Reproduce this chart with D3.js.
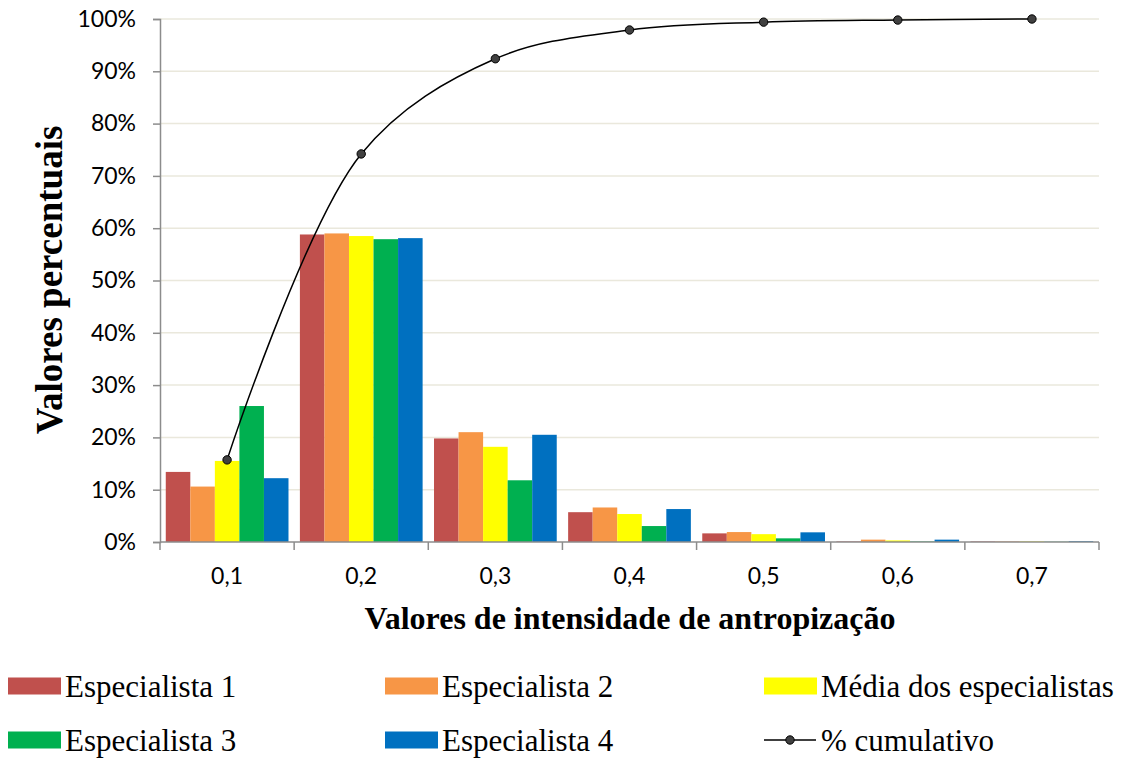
<!DOCTYPE html>
<html>
<head>
<meta charset="utf-8">
<script src="https://cdn.jsdelivr.net/npm/d3@7"></script>
<style>
  body { margin: 0; background: #fff; }
  svg { display: block; }
</style>
</head>
<body>
<svg id="chart" width="1129" height="758"></svg>
<script>
// Categories: intensity classes
const categories = ["0,1", "0,2", "0,3", "0,4", "0,5", "0,6", "0,7"];

// Percentage of area per class for each expert
const especialista1 = [13.4, 58.8, 19.8, 5.7, 1.65, 0.1, 0.1];
const especialista2 = [10.6, 59.0, 21.0, 6.6, 1.9, 0.45, 0.1];
const mediaEspecialistas = [15.5, 58.5, 18.2, 5.35, 1.5, 0.3, 0.1];
const especialista3 = [26.0, 57.9, 11.8, 3.05, 0.7, 0.1, 0.05];
const especialista4 = [12.2, 58.1, 20.5, 6.3, 1.85, 0.45, 0.15];

// Cumulative percentage
const cumulativo = [15.7, 74.2, 92.4, 97.9, 99.4, 99.8, 100];

const yTicks = [0, 10, 20, 30, 40, 50, 60, 70, 80, 90, 100];

const series = [
  { name: "Especialista 1", values: especialista1, color: "#C0504D" },
  { name: "Especialista 2", values: especialista2, color: "#F79646" },
  { name: "Média dos especialistas", values: mediaEspecialistas, color: "#FFFF00" },
  { name: "Especialista 3", values: especialista3, color: "#00B050" },
  { name: "Especialista 4", values: especialista4, color: "#0070C0" }
];

const svg = d3.select("#chart");
const plot = { left: 160, right: 1099, top: 19, bottom: 542 };

const x = d3.scaleBand().domain(categories).range([plot.left, plot.right]).paddingInner(0.085).paddingOuter(0.043);
const xOuter = d3.scaleBand().domain(categories).range([plot.left, plot.right]);
const xInner = d3.scaleBand().domain(series.map(s => s.name)).range([0, x.bandwidth()]);
const y = d3.scaleLinear().domain([0, 100]).range([plot.bottom, plot.top]);

const tickFont = "Lato, 'Open Sans', sans-serif";
const serif = "'Liberation Serif', 'Times New Roman', serif";

// Gridlines
svg.append("g").selectAll("line").data(yTicks.filter(t => t > 0)).join("line")
  .attr("x1", plot.left).attr("x2", plot.right)
  .attr("y1", d => y(d)).attr("y2", d => y(d))
  .attr("stroke", "#EAE8DC").attr("stroke-width", 1.5);

// Bars
const groups = svg.append("g").selectAll("g").data(series).join("g")
  .attr("fill", d => d.color);
groups.selectAll("rect").data(s => s.values.map((v, i) => ({ s, v, c: categories[i] }))).join("rect")
  .attr("x", d => x(d.c) + xInner(d.s.name))
  .attr("width", xInner.bandwidth())
  .attr("y", d => y(d.v))
  .attr("height", d => y(0) - y(d.v));

// Y axis
const yAxis = d3.axisLeft(y).tickValues(yTicks).tickFormat(d => d + "%").tickSize(7).tickPadding(17);
const gy = svg.append("g").attr("transform", `translate(${plot.left},0)`).call(yAxis);
gy.select(".domain").attr("stroke", "#8C8C8C").attr("stroke-width", 1.5);
gy.selectAll(".tick line").attr("stroke", "#8C8C8C").attr("stroke-width", 1.5);
gy.selectAll(".tick text").attr("font-family", tickFont).attr("font-size", 23).attr("fill", "#000");

// X axis: tick marks on category boundaries
const gx = svg.append("g").attr("transform", `translate(0,${plot.bottom})`);
gx.append("line").attr("x1", plot.left).attr("x2", plot.right).attr("stroke", "#8C8C8C").attr("stroke-width", 1.5);
const bounds = categories.map(c => xOuter(c)).concat([plot.right]);
gx.selectAll("line.tk").data(bounds).join("line").attr("class", "tk")
  .attr("x1", d => d).attr("x2", d => d).attr("y1", 0).attr("y2", 8)
  .attr("stroke", "#8C8C8C").attr("stroke-width", 1.5);
gx.selectAll("text").data(categories).join("text")
  .attr("x", d => xOuter(d) + xOuter.bandwidth() / 2).attr("y", 42)
  .attr("text-anchor", "middle")
  .attr("font-family", tickFont).attr("font-size", 23)
  .text(d => d);

// Cumulative line
const cx = c => xOuter(c) + xOuter.bandwidth() / 2;
const line = d3.line().x((d, i) => cx(categories[i])).y(d => y(d)).curve(d3.curveCatmullRom.alpha(0.5));
svg.append("path").datum(cumulativo).attr("d", line)
  .attr("fill", "none").attr("stroke", "#000").attr("stroke-width", 1.5);
svg.append("g").selectAll("circle").data(cumulativo).join("circle")
  .attr("cx", (d, i) => cx(categories[i])).attr("cy", d => y(d)).attr("r", 4.2)
  .attr("fill", "#404040").attr("stroke", "#000").attr("stroke-width", 1);

// Axis titles
svg.append("text").attr("x", 630).attr("y", 629).attr("text-anchor", "middle")
  .attr("font-family", serif).attr("font-weight", "bold").attr("font-size", 32)
  .text("Valores de intensidade de antropização");
svg.append("text").attr("transform", "translate(62,280) rotate(-90)").attr("text-anchor", "middle")
  .attr("font-family", serif).attr("font-weight", "bold").attr("font-size", 37)
  .text("Valores percentuais");

// Legend
const legendItems = [
  { name: "Especialista 1", color: "#C0504D", x: 8, y: 686 },
  { name: "Especialista 2", color: "#F79646", x: 385, y: 686 },
  { name: "Média dos especialistas", color: "#FFFF00", x: 764, y: 686 },
  { name: "Especialista 3", color: "#00B050", x: 8, y: 740 },
  { name: "Especialista 4", color: "#0070C0", x: 385, y: 740 },
  { name: "% cumulativo", color: null, x: 764, y: 740 }
];
const lg = svg.append("g").selectAll("g").data(legendItems).join("g")
  .attr("transform", d => `translate(${d.x},${d.y})`);
lg.filter(d => d.color).append("rect").attr("x", 0).attr("y", -8.5).attr("width", 53).attr("height", 17)
  .attr("fill", d => d.color);
const lc = lg.filter(d => !d.color);
lc.append("line").attr("x1", 0).attr("x2", 52).attr("y1", 0).attr("y2", 0).attr("stroke", "#000").attr("stroke-width", 1.5);
lc.append("circle").attr("cx", 26).attr("cy", 0).attr("r", 4.2).attr("fill", "#404040").attr("stroke", "#000");
lg.append("text").attr("x", 57).attr("y", 10.5)
  .attr("font-family", serif).attr("font-size", 31)
  .text(d => d.name);
</script>
</body>
</html>
